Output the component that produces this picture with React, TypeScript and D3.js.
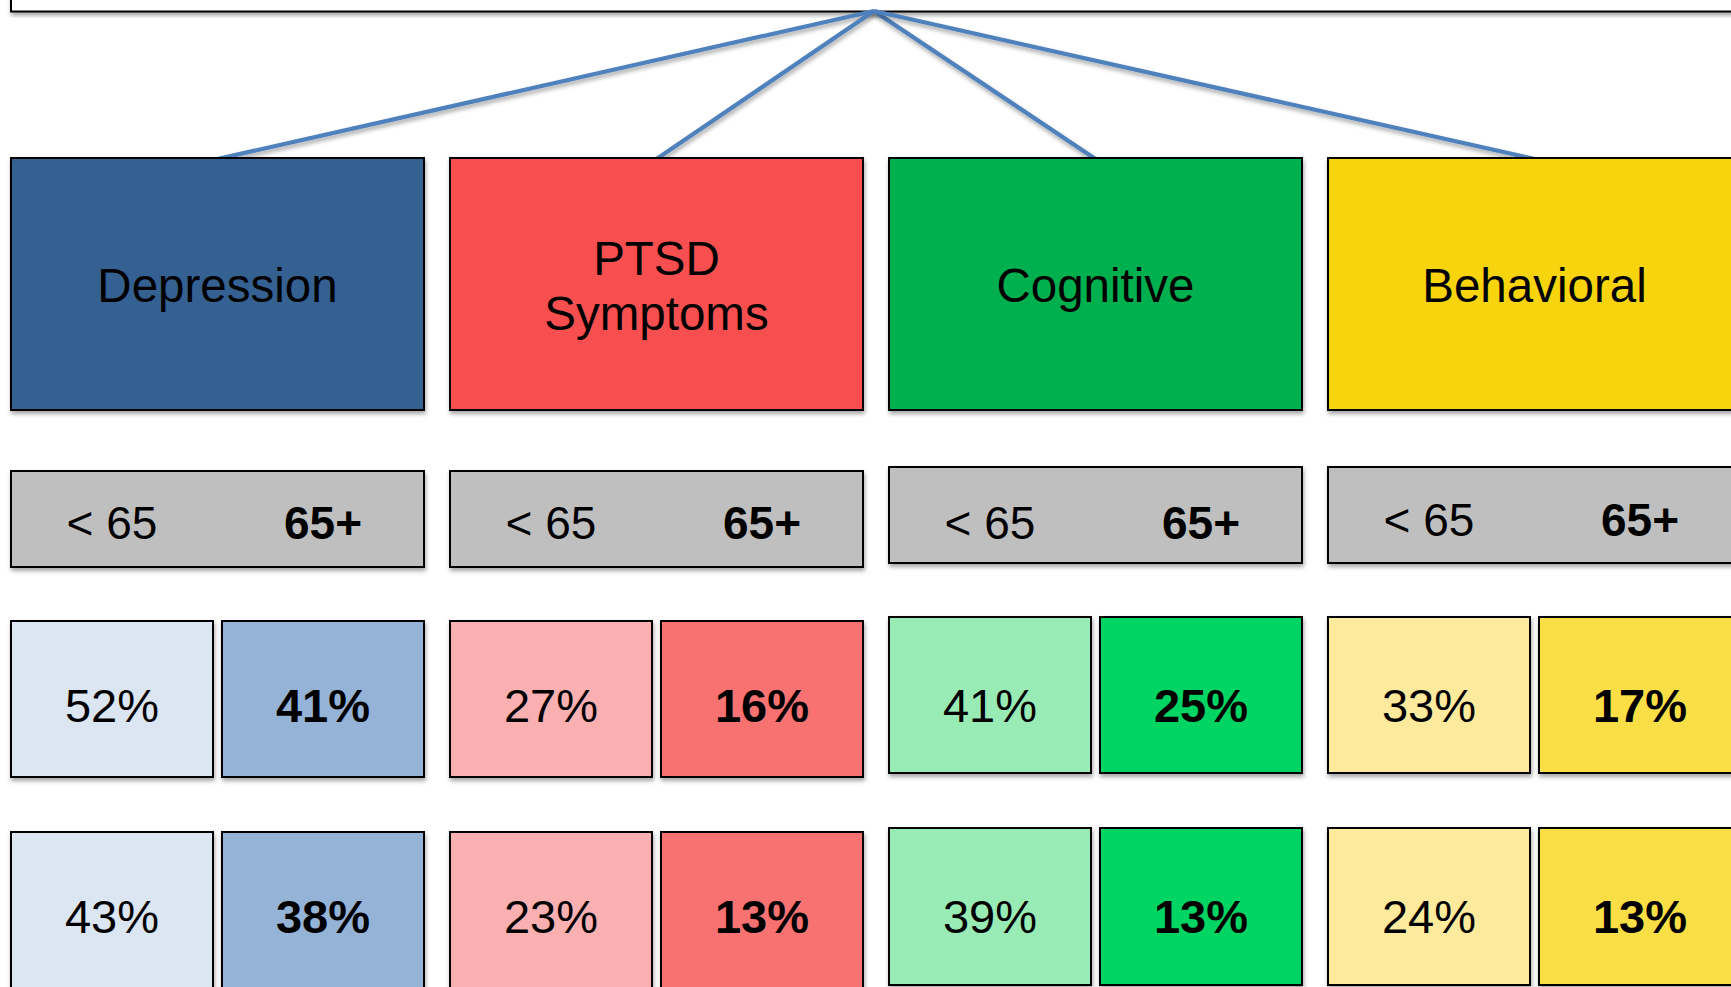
import React from "react";
import * as d3 from "d3";

const categories = ["Depression", "PTSD\nSymptoms", "Cognitive", "Behavioral"];
const ageGroups = ["< 65", "65+"];
const row1Under65 = [52, 27, 41, 33];
const row1Over65 = [41, 16, 25, 17];
const row2Under65 = [43, 23, 39, 24];
const row2Over65 = [38, 13, 13, 13];

const headColors = ["#366092", "#F75050", "#00B050", "#F7D40A"];
const lightColors = ["#DCE6F2", "#FAB0B0", "#98EBB4", "#FDEA9C"];
const darkColors = ["#95B3D7", "#F87272", "#00D563", "#F9DF45"];
const colShift = [0, 0, -4, -4];
const grayTextShift = [0, 0, 0, -3];

const W = 1731;
const H = 987;
const FONT = "'Liberation Sans', Arial, Helvetica, sans-serif";

export default function App() {
  const x = d3.scaleBand<string>().domain(categories).range([11, 1741]).paddingInner(26 / 439).paddingOuter(0);
  const bw = x.bandwidth();
  const sub = d3.scaleBand<string>().domain(ageGroups).range([0, bw]).paddingInner(9 / 211);
  const sbw = sub.bandwidth();

  const apex = { x: 874, y: 11 };
  const headTop = 158, headH = 252;
  const grayTop = 471, grayH = 96;
  const rows = [
    { top: 621, h: 156, under: row1Under65, over: row1Over65, base: 722 },
    { top: 832, h: 157, under: row2Under65, over: row2Over65, base: 933 },
  ];

  const line = d3.line<[number, number]>();

  return (
    <svg width={W} height={H} style={{ position: "fixed", left: 0, top: 0, background: "#fff" }} fontFamily={FONT}>
      <defs>
        <filter id="sh" x="-10%" y="-10%" width="120%" height="130%">
          <feDropShadow dx="1" dy="3" stdDeviation="2.2" floodColor="#000" floodOpacity="0.35" />
        </filter>
      </defs>
      <rect x={11} y={-20} width={W + 40} height={31.5} fill="#fff" stroke="#000" strokeWidth={2} filter="url(#sh)" />
      {categories.map((c) => (
        <path
          key={"l" + c}
          d={line([[apex.x, apex.y], [(x(c) as number) + bw / 2, headTop + 1]]) as string}
          stroke="#4F81BD"
          strokeWidth={4.2}
          fill="none"
          filter="url(#sh)"
        />
      ))}
      {categories.map((c, i) => {
        const x0 = x(c) as number;
        const cx = x0 + bw / 2;
        const lines = c.split("\n");
        const cy = headTop + headH / 2;
        const lh = 55;
        const ys = colShift[i];
        return (
          <g key={c}>
            <rect x={x0} y={headTop} width={bw} height={headH} fill={headColors[i]} stroke="#000" strokeWidth={2} filter="url(#sh)" />
            {lines.map((t, k) => (
              <text key={t} x={cx} y={cy + 18 + (k - (lines.length - 1) / 2) * lh} textAnchor="middle" fontSize={47.5} fill="#000">
                {t}
              </text>
            ))}
            <rect x={x0} y={grayTop + ys} width={bw} height={grayH} fill="#BFBFBF" stroke="#000" strokeWidth={2} filter="url(#sh)" />
            {ageGroups.map((a, k) => (
              <text key={a} x={x0 + (sub(a) as number) + sbw / 2} y={539 + grayTextShift[i]} textAnchor="middle" fontSize={46} fontWeight={k === 1 ? "bold" : "normal"} fill="#000">
                {a}
              </text>
            ))}
            {rows.map((r, ri) => (
              <g key={ri}>
                {ageGroups.map((a, k) => {
                  const sx = x0 + (sub(a) as number);
                  const v = k === 0 ? r.under[i] : r.over[i];
                  return (
                    <g key={a}>
                      <rect x={sx} y={r.top + ys} width={sbw} height={r.h} fill={k === 0 ? lightColors[i] : darkColors[i]} stroke="#000" strokeWidth={2} filter="url(#sh)" />
                      <text x={sx + sbw / 2} y={r.base} textAnchor="middle" fontSize={47} fontWeight={k === 1 ? "bold" : "normal"} fill="#000">
                        {v + "%"}
                      </text>
                    </g>
                  );
                })}
              </g>
            ))}
          </g>
        );
      })}
    </svg>
  );
}
